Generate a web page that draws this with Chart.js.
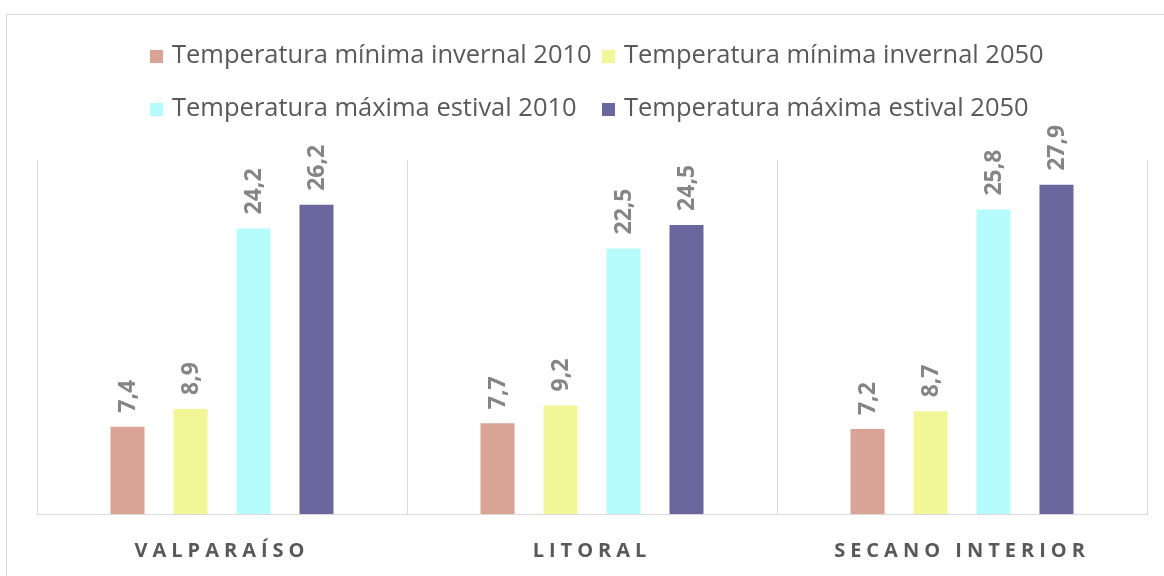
<!DOCTYPE html>
<html>
<head>
<meta charset="utf-8">
<script src="https://cdn.jsdelivr.net/npm/chart.js@4"></script>
<style>
  html, body { margin: 0; padding: 0; background: #fff; overflow: hidden; }
  #wrap { position: relative; width: 1164px; height: 576px; }
</style>
</head>
<body>
<div id="wrap"><canvas id="tempChart" width="1164" height="576"></canvas></div>
<script>
// Datos
const zonas = ['VALPARAÍSO', 'LITORAL', 'SECANO INTERIOR'];
const seriesNombres = [
    'Temperatura mínima invernal 2010',
    'Temperatura mínima invernal 2050',
    'Temperatura máxima estival 2010',
    'Temperatura máxima estival 2050'
];
const minInvernal2010 = [7.4, 7.7, 7.2];
const minInvernal2050 = [8.9, 9.2, 8.7];
const maxEstival2010 = [24.2, 22.5, 25.8];
const maxEstival2050 = [26.2, 24.5, 27.9];
const colores = ['#d9a396', '#f1f697', '#b7fcfc', '#6a679e'];

const valores = [minInvernal2010, minInvernal2050, maxEstival2010, maxEstival2050];

// Marco exterior y espaciado de letras para las etiquetas del eje
const marcoPlugin = {
    id: 'marco',
    beforeDraw(chart) {
        const ctx = chart.ctx;
        ctx.save();
        ctx.strokeStyle = '#d9d9d9';
        ctx.lineWidth = 1;
        ctx.strokeRect(6.5, 14.5, 1300, 700);
        ctx.restore();
        ctx.letterSpacing = '5px';
    },
    beforeDatasetsDraw(chart) {
        chart.ctx.letterSpacing = '0px';
    }
};

// Leyenda en dos columnas como en Excel
const leyendaPlugin = {
    id: 'leyenda',
    afterDraw(chart) {
        const ctx = chart.ctx;
        const cols = [150, 602];
        const filas = [56, 109];
        ctx.save();
        ctx.letterSpacing = '0px';
        ctx.font = '25.5px "Open Sans", sans-serif';
        ctx.textBaseline = 'middle';
        ctx.textAlign = 'left';
        chart.data.datasets.forEach((ds, i) => {
            const x = cols[i % 2];
            const y = filas[Math.floor(i / 2)];
            ctx.fillStyle = ds.backgroundColor;
            ctx.fillRect(x, y - 6, 13, 13);
            ctx.fillStyle = '#595959';
            ctx.fillText(ds.label, x + 22, y);
        });
        ctx.restore();
    }
};

// Etiquetas de valor giradas
const etiquetasPlugin = {
    id: 'etiquetas',
    afterDatasetsDraw(chart) {
        const ctx = chart.ctx;
        ctx.save();
        ctx.letterSpacing = '0px';
        ctx.font = 'bold 23px "Open Sans", sans-serif';
        ctx.fillStyle = '#858585';
        ctx.textAlign = 'left';
        ctx.textBaseline = 'middle';
        chart.data.datasets.forEach((ds, i) => {
            chart.getDatasetMeta(i).data.forEach((bar, j) => {
                const txt = ds.data[j].toFixed(1).replace('.', ',');
                ctx.save();
                ctx.translate(bar.x, bar.y - 14);
                ctx.rotate(-Math.PI / 2);
                ctx.fillText(txt, 0, 1);
                ctx.restore();
            });
        });
        ctx.restore();
    }
};

new Chart(document.getElementById('tempChart'), {
    type: 'bar',
    data: {
        labels: zonas,
        datasets: seriesNombres.map((nombre, i) => ({
            label: nombre,
            data: valores[i],
            backgroundColor: colores[i],
            borderWidth: 0,
            categoryPercentage: 0.681,
            barPercentage: 0.54
        }))
    },
    options: {
        responsive: false,
        animation: false,
        devicePixelRatio: 1,
        layout: {
            padding: { left: 37, right: 17, top: 160, bottom: -12 }
        },
        plugins: {
            legend: { display: false },
            tooltip: { enabled: false }
        },
        scales: {
            x: {
                grid: {
                    display: true,
                    offset: true,
                    color: '#d9d9d9',
                    lineWidth: 1,
                    drawTicks: false
                },
                border: { display: true, color: '#d9d9d9', width: 1 },
                ticks: {
                    padding: 25,
                    color: '#595959',
                    font: { family: '"Open Sans", sans-serif', size: 20, weight: 'bold' }
                }
            },
            y: {
                display: false,
                min: 0,
                max: 30
            }
        }
    },
    plugins: [marcoPlugin, etiquetasPlugin, leyendaPlugin]
});
</script>
</body>
</html>
